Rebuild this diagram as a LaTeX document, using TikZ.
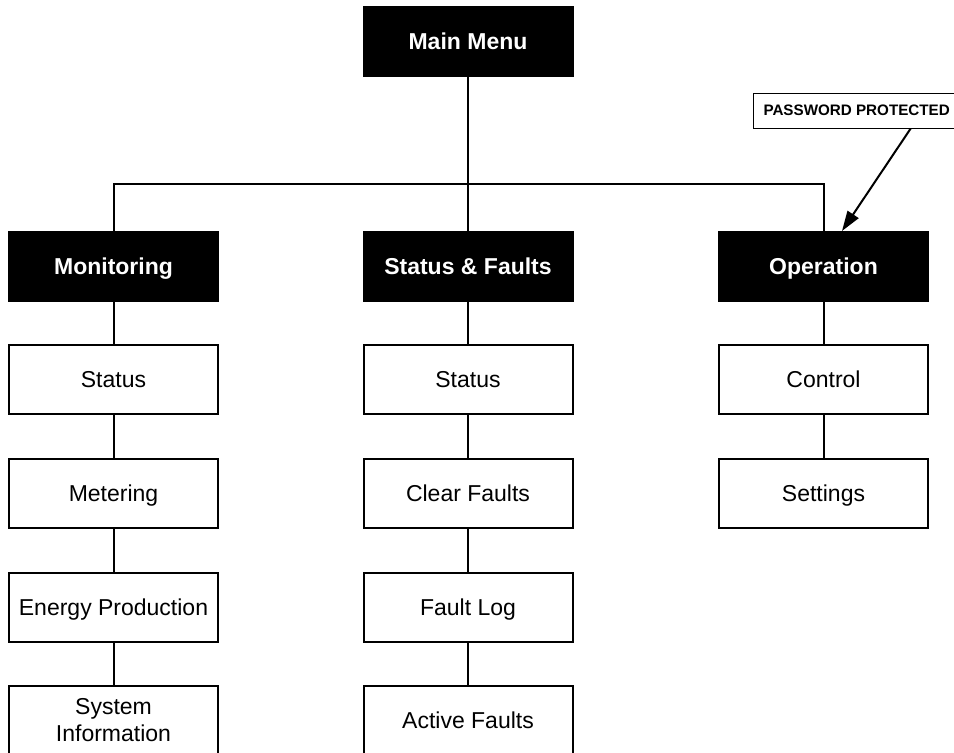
\documentclass[tikz,border=0pt]{standalone}
\usepackage{fontspec}
\setmainfont{Liberation Sans}
\usetikzlibrary{arrows.meta}
\begin{document}
\begin{tikzpicture}[x=1pt,y=-1pt,
  menubox/.style={draw=black,line width=2pt,minimum width=209pt,minimum height=69pt,inner sep=0pt,
    font=\fontsize{23}{27}\selectfont,align=center},
  oneline/.style={text height=20pt,text depth=4pt},
  headbox/.style={menubox,oneline,fill=black,text=white,font=\fontsize{23}{27}\selectfont\bfseries},
  itembox/.style={menubox,fill=white,text=black},
  item/.style={itembox,oneline},
  link/.style={line width=2pt},
  notebox/.style={draw=black,line width=1pt,fill=white,minimum height=35pt,inner xsep=10pt,inner ysep=0pt,
    text height=13pt,text depth=3pt,font=\fontsize{15.2}{18}\selectfont\bfseries}]
  \useasboundingbox (0,0) rectangle (954,753);
  \clip (0,0) rectangle (954,753);
  \fill[white] (0,0) rectangle (954,753);

  % top level
  \node[headbox] (main) at (468,41) {Main Menu};

  % second level
  \node[headbox] (mon) at (113.5,266.5) {Monitoring};
  \node[headbox] (sf)  at (468,266.5)   {Status \& Faults};
  \node[headbox] (op)  at (823.5,266.5) {Operation};

  % Monitoring items
  \node[item] (m1) at (113.5,379.5) {Status};
  \node[item] (m2) at (113.5,493.5) {Metering};
  \node[item] (m3) at (113.5,607)   {Energy Production};
  \node[itembox] (m4) at (113.5,720.5) {System\\Information};

  % Status & Faults items
  \node[item] (s1) at (468,379.5) {Status};
  \node[item] (s2) at (468,493.5) {Clear Faults};
  \node[item] (s3) at (468,607)   {Fault Log};
  \node[item] (s4) at (468,720.5) {Active Faults};

  % Operation items
  \node[item] (o1) at (823.5,379.5) {Control};
  \node[item] (o2) at (823.5,493.5) {Settings};

  % branch bus
  \coordinate (bus) at (468,184);
  \draw[link] (main.south) -- (sf.north);
  \draw[link] (mon.north) |- (bus) -| (op.north);

  % vertical chains
  \draw[link] (mon.south) -- (m1.north);
  \draw[link] (m1.south) -- (m2.north);
  \draw[link] (m2.south) -- (m3.north);
  \draw[link] (m3.south) -- (m4.north);
  \draw[link] (sf.south) -- (s1.north);
  \draw[link] (s1.south) -- (s2.north);
  \draw[link] (s2.south) -- (s3.north);
  \draw[link] (s3.south) -- (s4.north);
  \draw[link] (op.south) -- (o1.north);
  \draw[link] (o1.south) -- (o2.north);

  % password note
  \node[notebox,anchor=west] (pw) at (753,110.5) {PASSWORD PROTECTED};
  \draw[line width=2pt,-{Triangle[length=20pt,width=13pt]}]
    ([xshift=54pt]pw.south) -- ([xshift=18.5pt]op.north);
\end{tikzpicture}
\end{document}
